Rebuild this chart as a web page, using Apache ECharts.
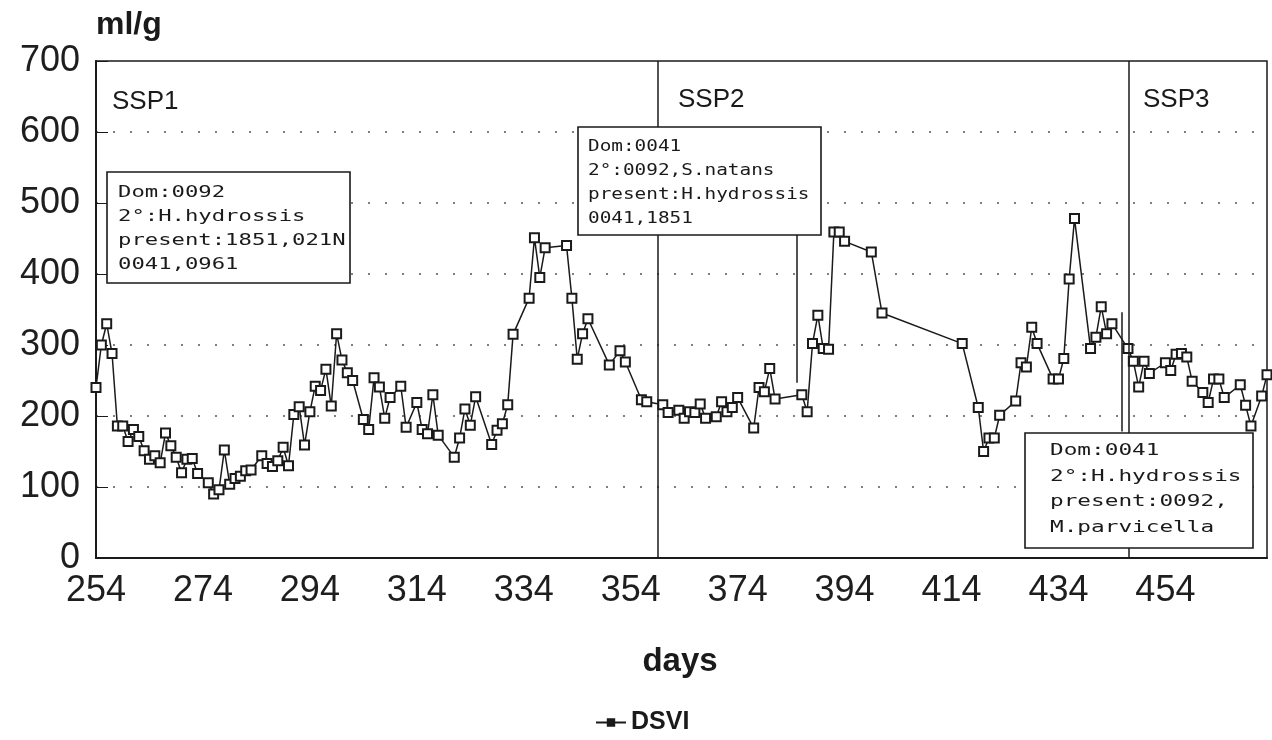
<!DOCTYPE html>
<html><head><meta charset="utf-8">
<script src="https://cdn.jsdelivr.net/npm/echarts@6/dist/echarts.min.js"></script>
<style>html,body{margin:0;padding:0;background:#fff}#c{width:1272px;height:740px}</style>
</head><body><div id="c"></div>
<script>
// Sampling day numbers
const days = [254,255,256,257,258,259,260,261,262,263,264,265,266,267,268,269,270,271,272,273,
  275,276,277,278,279,280,281,282,283,285,286,287,288,289,290,291,292,293,294,295,296,297,298,299,
  300,301,302,304,305,306,307,308,309,311,312,314,315,316,317,318,321,322,323,324,325,328,329,330,331,332,
  335,336,337,338,342,343,344,345,346,350,352,353,356,357,360,361,363,364,365,366,367,368,370,371,372,373,374,
  377,378,379,380,381,386,387,388,389,390,391,392,393,394,399,401,416,419,420,421,422,423,426,427,428,429,430,
  433,434,435,436,437,440,441,442,443,444,447,448,449,450,451,454,455,456,457,458,459,461,462,463,464,465,
  468,469,470,472,473];
// DSVI values (ml/g)
const dsvi = [240,300,330,288,186,186,164,181,171,151,139,144,134,176,158,142,120,139,140,119,
  106,90,96,152,104,112,115,123,124,144,133,129,137,156,130,202,213,159,206,242,236,266,214,316,
  279,261,250,195,181,254,241,197,226,242,184,219,181,175,230,173,142,169,210,187,227,160,180,189,216,315,
  366,451,395,437,440,366,280,316,337,272,292,276,223,220,216,205,208,197,206,205,217,197,199,220,206,212,226,
  183,240,234,267,224,230,206,302,342,295,294,459,459,446,431,345,302,212,150,169,169,201,221,275,269,325,302,
  252,252,281,393,478,295,311,354,316,330,295,277,241,277,260,275,264,287,288,283,249,233,219,252,252,226,
  244,215,186,228,258];
const xTickLabels = [254,274,294,314,334,354,374,394,414,434,454];
const phaseNames = ['SSP1','SSP2','SSP3'];
const phaseBoundaries = [359.1, 447.1];
const note1 = ['Dom:0092','2°:H.hydrossis','present:1851,021N','0041,0961'];
const note2 = ['Dom:0041','2°:0092,S.natans','present:H.hydrossis','0041,1851'];
const note3 = ['Dom:0041','2°:H.hydrossis','present:0092,','M.parvicella'];

const ink = '#1a1a1a';
const chart = echarts.init(document.getElementById('c'));

function noteBox(x, y, w, h, lines, tx, ty, step, sx) {
  const els = [{type:'rect', shape:{x:x,y:y,width:w,height:h}, style:{fill:'#fff', stroke:ink, lineWidth:1.6}, z:100}];
  lines.forEach((t,i)=>{
    els.push({type:'text', x:tx, y:ty+i*step, scaleX:sx, z:101,
      style:{text:t, x:0, y:0, font:'16px "DejaVu Sans Mono"', fill:ink, textVerticalAlign:'middle'}});
  });
  return els;
}
const label = (t,x,y,size,weight,align) => ({type:'text', x:x, y:y, z:101,
  style:{text:t, font:(weight||'normal')+' '+size+'px "Liberation Sans"', fill:ink, textVerticalAlign:'middle', textAlign:align||'left'}});

const graphics = [].concat(
  noteBox(107,172,243,111, note1, 118,193,24, 1.39),
  noteBox(578,127,243,108, note2, 588,147,24, 1.21),
  noteBox(1025,433,228,115, note3, 1050,451,25.5, 1.42),
  [label(phaseNames[0],112,102,26), label(phaseNames[1],678,100,26), label(phaseNames[2],1143,100,26),
   label('ml/g',96,25,32,'bold'), label('days',680,662,33,'bold','center')]
);

chart.setOption({
  backgroundColor:'#fff',
  animation:false,
  grid:{left:96,right:5,top:61,bottom:182,show:true,borderColor:ink,borderWidth:1.5,backgroundColor:'transparent'},
  legend:{data:['DSVI'], left:590, top:705, itemWidth:30, itemHeight:8, itemGap:4,
    itemStyle:{color:ink, borderColor:ink},
    textStyle:{fontSize:25, fontWeight:'bold', color:ink, fontFamily:'Liberation Sans', padding:[0,0,0,0]}},
  xAxis:{type:'value', min:254, max:473,
    axisLine:{show:true, lineStyle:{color:ink,width:2}},
    axisTick:{show:false, customValues:xTickLabels},
    axisLabel:{customValues:xTickLabels, fontSize:36, color:'#1e1e1e', margin:15, fontFamily:'Liberation Sans'},
    splitLine:{show:false}},
  yAxis:{type:'value', min:0, max:700, interval:100,
    axisLine:{show:true, lineStyle:{color:ink,width:2}},
    axisTick:{show:true, inside:true, length:12, lineStyle:{color:ink}},
    axisLabel:{fontSize:36, color:'#1e1e1e', margin:16, fontFamily:'Liberation Sans'},
    splitLine:{show:true, lineStyle:{color:'#555', width:1.5, type:[2,15]}}},
  series:[{name:'DSVI', type:'line', data:days.map((d,i)=>[d,dsvi[i]]),
    symbol:'rect', symbolSize:9, showAllSymbol:true,
    itemStyle:{color:'#fff', borderColor:ink, borderWidth:2},
    lineStyle:{color:ink, width:1.5},
    markLine:{silent:true, symbol:['none','none'], label:{show:false},
      lineStyle:{color:ink, width:1.5, type:'solid'},
      data:[{xAxis:phaseBoundaries[0]},{xAxis:phaseBoundaries[1]},
        [{coord:[385.1,247]},{coord:[385.1,456]}],
        [{coord:[445.8,346]},{coord:[445.8,178]}]]}
  }],
  graphic:graphics
});
</script></body></html>
